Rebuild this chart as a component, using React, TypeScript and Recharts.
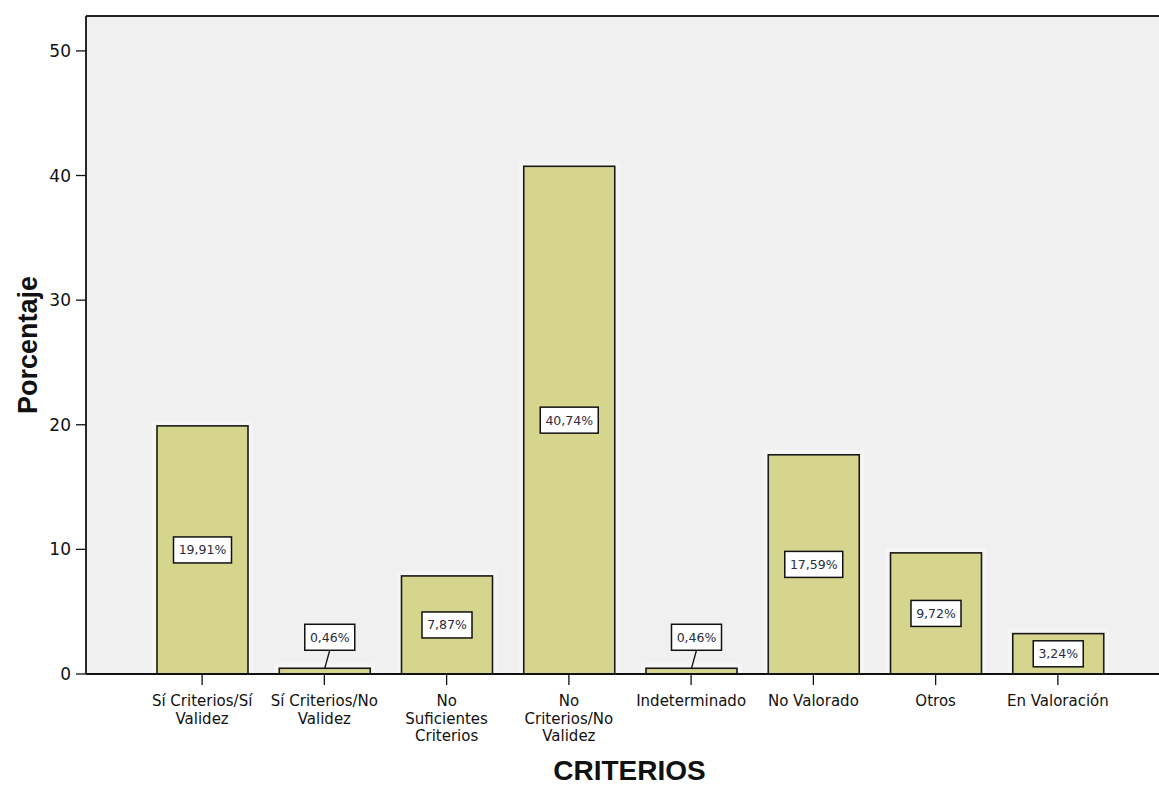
import { BarChart, Bar, XAxis, YAxis, CartesianGrid, LabelList, Label, ReferenceLine } from 'recharts';

const categories = [
  'Sí Criterios/Sí Validez',
  'Sí Criterios/No Validez',
  'No Suficientes Criterios',
  'No Criterios/No Validez',
  'Indeterminado',
  'No Valorado',
  'Otros',
  'En Valoración',
];

const tickLines = [
  ['Sí Criterios/Sí', 'Validez'],
  ['Sí Criterios/No', 'Validez'],
  ['No', 'Suficientes', 'Criterios'],
  ['No', 'Criterios/No', 'Validez'],
  ['Indeterminado'],
  ['No Valorado'],
  ['Otros'],
  ['En Valoración'],
];

const percentages = [19.91, 0.46, 7.87, 40.74, 0.46, 17.59, 9.72, 3.24];
const valueLabels = ['19,91%', '0,46%', '7,87%', '40,74%', '0,46%', '17,59%', '9,72%', '3,24%'];

const yTicks = [0, 10, 20, 30, 40, 50];
const Y_MAX = 52.8;

const data = categories.map((name, i) => ({ name, pct: percentages[i], label: valueLabels[i] }));

const FONT = "'DejaVu Sans', Tahoma, sans-serif";
const BOLD_FONT = "'Liberation Sans', Arial, sans-serif";

function CategoryTick({ x, y, payload }: any) {
  const lines = tickLines[payload.index] || [payload.value];
  return (
    <g transform={`translate(${x},${y})`}>
      <text textAnchor="middle" fontFamily={FONT} fontSize={15} fill="#111">
        {lines.map((l, i) => (
          <tspan key={i} x={0} dy={i === 0 ? 21 : 17.5}>
            {l}
          </tspan>
        ))}
      </text>
    </g>
  );
}

function HaloBar(props: any) {
  const { x, y, width, height } = props;
  if (height == null || width == null) return null;
  return (
    <g>
      <rect x={x - 5} y={y - 5} width={width + 10} height={height + 5} fill="#ffffff" opacity={0.35} />
      <rect x={x} y={y} width={width} height={height} fill="#d5d58e" stroke="#1a1a1a" strokeWidth={1.6} />
    </g>
  );
}

function BoxLabel(props: any) {
  const { x, y, width, height, index } = props;
  const text = valueLabels[index];
  const w = 10 + text.length * 8;
  const h = 26;
  const cx = x + width / 2;
  if (height > 34) {
    const cy = y + height / 2;
    return (
      <g>
        <rect x={cx - w / 2} y={cy - h / 2} width={w} height={h} fill="#ffffff" stroke="#111" strokeWidth={1.5} />
        <text x={cx} y={cy + 4.5} textAnchor="middle" fontFamily={FONT} fontSize={12.5} fill="#2b2b3b">
          {text}
        </text>
      </g>
    );
  }
  const bx = cx + 5;
  const bottom = y - 18;
  return (
    <g>
      <line x1={cx} y1={y} x2={bx} y2={bottom} stroke="#111" strokeWidth={1.3} />
      <rect x={bx - w / 2} y={bottom - h} width={w} height={h} fill="#ffffff" stroke="#111" strokeWidth={1.5} />
      <text x={bx} y={bottom - h / 2 + 4.5} textAnchor="middle" fontFamily={FONT} fontSize={12.5} fill="#2b2b3b">
        {text}
      </text>
    </g>
  );
}

export default function App() {
  return (
    <div style={{ width: 1159, height: 785, background: '#ffffff' }}>
      <style>{'body{margin:0}'}</style>
      <BarChart width={1159} height={785} data={data} margin={{ top: 16, right: 0, left: 0, bottom: 0 }}>
        <CartesianGrid fill="#f0f0f0" horizontal={false} vertical={false} />
        <XAxis
          dataKey="name"
          type="category"
          padding={{ left: 55, right: 40 }}
          height={111}
          tickSize={11}
          tickMargin={0}
          tick={<CategoryTick />}
          tickLine={{ stroke: '#111', strokeWidth: 1.3 }}
          axisLine={{ stroke: '#111', strokeWidth: 1.8 }}
          interval={0}
        >
          <Label
            value="CRITERIOS"
            position="insideBottom"
            offset={5}
            dx={7}
            style={{ fontFamily: BOLD_FONT, fontWeight: 700, fontSize: 28, fill: '#111' }}
          />
        </XAxis>
        <YAxis
          width={86}
          domain={[0, Y_MAX]}
          ticks={yTicks}
          allowDataOverflow
          tickSize={10}
          tickMargin={5}
          tick={{ fill: '#111', fontSize: 17, fontFamily: FONT }}
          tickLine={{ stroke: '#111', strokeWidth: 1.3 }}
          axisLine={{ stroke: '#111', strokeWidth: 1.8 }}
        >
          <Label
            value="Porcentaje"
            angle={-90}
            position="center"
            dx={-16}
            style={{ fontFamily: BOLD_FONT, fontWeight: 700, fontSize: 27, fill: '#111', textAnchor: 'middle' }}
          />
        </YAxis>
        <ReferenceLine y={Y_MAX} stroke="#222" strokeWidth={2} />
        <Bar dataKey="pct" barSize={91} shape={<HaloBar />} isAnimationActive={false}>
          <LabelList dataKey="label" content={<BoxLabel />} />
        </Bar>
      </BarChart>
    </div>
  );
}
